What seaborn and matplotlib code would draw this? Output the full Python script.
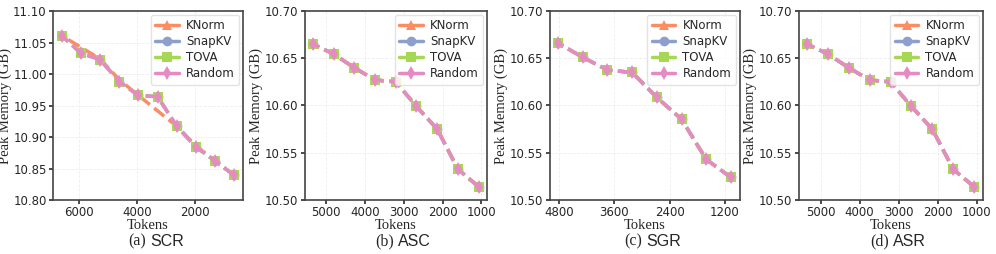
import matplotlib
matplotlib.use("Agg")
import matplotlib.pyplot as plt
import seaborn as sns
import numpy as np

# ---- data ----
METHODS = ["KNorm", "SnapKV", "TOVA", "Random"]
PANELS = ["SCR", "ASC", "SGR", "ASR"]
LETTERS = ["(a)", "(b)", "(c)", "(d)"]

tokens_scr = [6580, 5922, 5264, 4606, 3948, 3290, 2632, 1974, 1316, 658]
tokens_scr_knorm = [6580, 5264, 4606, 3948, 2632, 1974, 1316, 658]
tokens_asc = [5350, 4815, 4280, 3745, 3210, 2675, 2140, 1605, 1070]
tokens_sgr = [4815, 4280, 3745, 3210, 2675, 2140, 1605, 1070]
tokens_asr = [5350, 4815, 4280, 3745, 3210, 2675, 2140, 1605, 1070]

mem_scr_knorm = [11.061, 11.024, 10.991, 10.966, 10.917, 10.886, 10.862, 10.839]
mem_scr_other = [11.061, 11.033, 11.023, 10.988, 10.966, 10.964, 10.917, 10.884, 10.862, 10.839]
mem_asc = [10.665, 10.6545, 10.640, 10.627, 10.625, 10.599, 10.575, 10.5325, 10.514]
mem_sgr = [10.666, 10.651, 10.6375, 10.635, 10.6085, 10.5855, 10.543, 10.524]
mem_asr = [10.665, 10.6545, 10.640, 10.627, 10.625, 10.599, 10.575, 10.5325, 10.514]

xticks_scr = [6000, 4000, 2000]
xticks_asc = [5000, 4000, 3000, 2000, 1000]
xticks_sgr = [4800, 3600, 2400, 1200]
xticks_asr = [5000, 4000, 3000, 2000, 1000]
yticks_scr = [10.80, 10.85, 10.90, 10.95, 11.00, 11.05, 11.10]
yticks_low = [10.50, 10.55, 10.60, 10.65, 10.70]

set2 = sns.color_palette("Set2")
COLORS = {"KNorm": set2[1], "SnapKV": set2[2], "TOVA": set2[4], "Random": set2[3]}
MARKERS = {"KNorm": "^", "SnapKV": "o", "TOVA": "s", "Random": "d"}

panel_data = [
    ({"KNorm": (tokens_scr_knorm, mem_scr_knorm), "SnapKV": (tokens_scr, mem_scr_other),
      "TOVA": (tokens_scr, mem_scr_other), "Random": (tokens_scr, mem_scr_other)},
     xticks_scr, yticks_scr),
    ({m: (tokens_asc, mem_asc) for m in METHODS}, xticks_asc, yticks_low),
    ({m: (tokens_sgr, mem_sgr) for m in METHODS}, xticks_sgr, yticks_low),
    ({m: (tokens_asr, mem_asr) for m in METHODS}, xticks_asr, yticks_low),
]

sns.set_theme(style="ticks")
plt.rcParams["font.family"] = ["DejaVu Sans"]

fig = plt.figure(figsize=(9.96, 2.54), dpi=100)
# axes boxes in pixels: left, right
boxes = [(53, 243), (304.5, 487), (549.5, 739.5), (798.5, 982.5)]
top_px, bot_px = 11, 200

for i, ((series, xt, yt), (l, r)) in enumerate(zip(panel_data, boxes)):
    ax = fig.add_axes([l / 996, 1 - bot_px / 254, (r - l) / 996, (bot_px - top_px) / 254])
    for m in METHODS:
        x, y = series[m]
        sns.lineplot(x=x, y=y, ax=ax, color=COLORS[m], marker=MARKERS[m],
                     linestyle="--", linewidth=2.5, markersize=7, markeredgewidth=0,
                     label=m)
    ax.invert_xaxis()
    ax.set_xticks(xt)
    ax.set_yticks(yt)
    ax.set_ylim(yt[0], yt[-1])
    ax.set_yticklabels([f"{v:.2f}" for v in yt])
    ax.tick_params(labelsize=8.5, length=3, pad=1.5, color="#333333")
    ax.grid(True, linestyle="--", linewidth=0.6, alpha=0.35)
    for s in ax.spines.values():
        s.set_color("#444444")
        s.set_linewidth(1.2)
    ax.set_xlabel("Tokens", family="Liberation Serif", fontsize=10.5, labelpad=0)
    ax.set_ylabel("Peak Memory (GB)", family="Liberation Serif", fontsize=10.5, labelpad=1)
    leg = ax.legend(loc="upper right", fontsize=8.5, handlelength=2.0, frameon=True,
                    edgecolor="#dddddd", borderpad=0.4, labelspacing=0.25,
                    handletextpad=0.6, borderaxespad=0.3)
    for h in leg.get_lines():
        h.set_linestyle("-")
    cx = (l + r) / 2 / 996
    fig.text(cx - 0.002, 1 - 241 / 254, LETTERS[i], family="Liberation Serif",
             fontsize=11.5, ha="right", va="center")
    fig.text(cx + 0.002, 1 - 241 / 254, PANELS[i], family="Liberation Sans",
             fontsize=11.5, ha="left", va="center")

fig.savefig("out.png", dpi=100)
